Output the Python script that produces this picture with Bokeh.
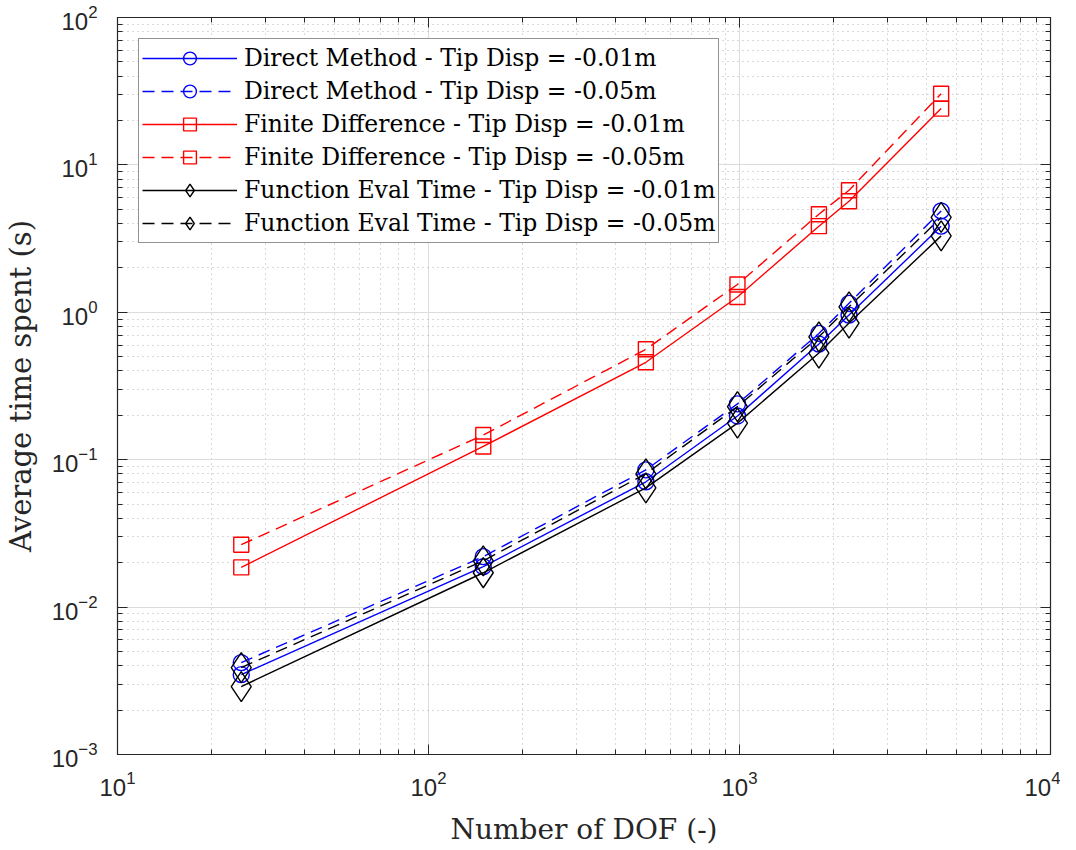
from bokeh.plotting import figure
from bokeh.models import Range1d, LogAxis, LogTicker, Legend, CustomJSTickFormatter
from bokeh.embed import file_html
from bokeh.resources import INLINE

dof = [25, 150, 500, 985, 1800, 2250, 4450]
dm_001 = [0.00348, 0.0188, 0.0708, 0.198, 0.609, 0.957, 3.84]
dm_005 = [0.0042, 0.0220, 0.0853, 0.239, 0.719, 1.15, 4.87]
fd_001 = [0.0186, 0.123, 0.458, 1.27, 3.84, 5.67, 24.1]
fd_005 = [0.0265, 0.147, 0.561, 1.545, 4.63, 6.73, 30.4]
fe_001 = [0.00289, 0.0171, 0.0644, 0.177, 0.529, 0.845, 3.3]
fe_005 = [0.00389, 0.0206, 0.0802, 0.229, 0.682, 1.09, 4.4]

series = [
    ("Direct Method - Tip Disp = -0.01m", dm_001, "#0000ff", "solid", "circle"),
    ("Direct Method - Tip Disp = -0.05m", dm_005, "#0000ff", "12 7", "circle"),
    ("Finite Difference - Tip Disp = -0.01m", fd_001, "#ff0000", "solid", "square"),
    ("Finite Difference - Tip Disp = -0.05m", fd_005, "#ff0000", "12 7", "square"),
    ("Function Eval Time - Tip Disp = -0.01m", fe_001, "#000000", "solid", "diamond"),
    ("Function Eval Time - Tip Disp = -0.05m", fe_005, "#000000", "12 7", "diamond"),
]
sizes = {"circle": 16, "square": 15, "diamond": 30}

axc = "#262626"
serif = "DejaVu Serif"
p = figure(width=1060, height=848, x_axis_type="log", y_axis_type="log",
           x_range=Range1d(10, 1e4), y_range=Range1d(1e-3, 1e2),
           output_backend="svg", toolbar_location=None,
           min_border_left=117, min_border_right=10, min_border_top=17, min_border_bottom=79)
p.outline_line_color = axc
p.outline_line_width = 1.2
p.background_fill_color = "white"

for ax in (p.xaxis[0], p.yaxis[0]):
    ax.ticker = LogTicker(num_minor_ticks=10)
    ax.major_tick_in = 10
    ax.major_tick_out = 0
    ax.minor_tick_in = 5
    ax.minor_tick_out = 0
    ax.axis_line_color = axc
    ax.major_tick_line_color = axc
    ax.minor_tick_line_color = axc
    ax.major_label_text_font = "Liberation Sans"
    ax.major_label_text_font_size = "24px"
    ax.major_label_text_color = axc
    ax.axis_label_text_font = serif
    ax.axis_label_text_font_style = "normal"
    ax.axis_label_text_color = axc

p.xaxis.axis_label_text_font_size = "28px"
p.yaxis.axis_label_text_font_size = "29px"
p.xaxis.major_label_standoff = 16
p.xaxis.axis_label_standoff = 14
p.yaxis.major_label_standoff = 20
p.yaxis.axis_label_standoff = 11

p.xaxis.axis_label = "Number of DOF (-)"
p.yaxis.axis_label = "Average time spent (s)"

for loc in ("above", "right"):
    a = LogAxis(ticker=LogTicker(num_minor_ticks=10), major_tick_in=10, major_tick_out=0,
                minor_tick_in=5, minor_tick_out=0, axis_line_color=axc,
                major_tick_line_color=axc, minor_tick_line_color=axc,
                formatter=CustomJSTickFormatter(code="return ' ';"),
                major_label_text_font_size="2px", major_label_standoff=0)
    p.add_layout(a, loc)

for g in (p.xgrid[0], p.ygrid[0]):
    g.ticker = LogTicker(num_minor_ticks=10)
    g.grid_line_color = "#dcdcdc"
    g.grid_line_width = 1
    g.minor_grid_line_color = "#a0a0a0"
    g.minor_grid_line_dash = "1 4"
    g.minor_grid_line_alpha = 0.8

items = []
for label, ys, col, dash, mk in series:
    r1 = p.line(dof, ys, line_color=col, line_width=1.4, line_dash=dash)
    r2 = p.scatter(dof, ys, marker=mk, size=sizes[mk], fill_color=None,
                   line_color=col, line_width=1.4)
    items.append((label, [r1, r2]))

legend = Legend(items=items, location="top_left", margin=21)
legend.label_text_font = serif
legend.label_text_font_size = "23.5px"
legend.label_text_color = "#000000"
legend.glyph_width = 95
legend.glyph_height = 32
legend.label_height = 32
legend.spacing = 1
legend.padding = 3
legend.label_standoff = 7
legend.border_line_color = axc
legend.border_line_width = 1.2
legend.background_fill_alpha = 1
p.add_layout(legend, "center")

open("out.html", "w").write(file_html(p, INLINE))
